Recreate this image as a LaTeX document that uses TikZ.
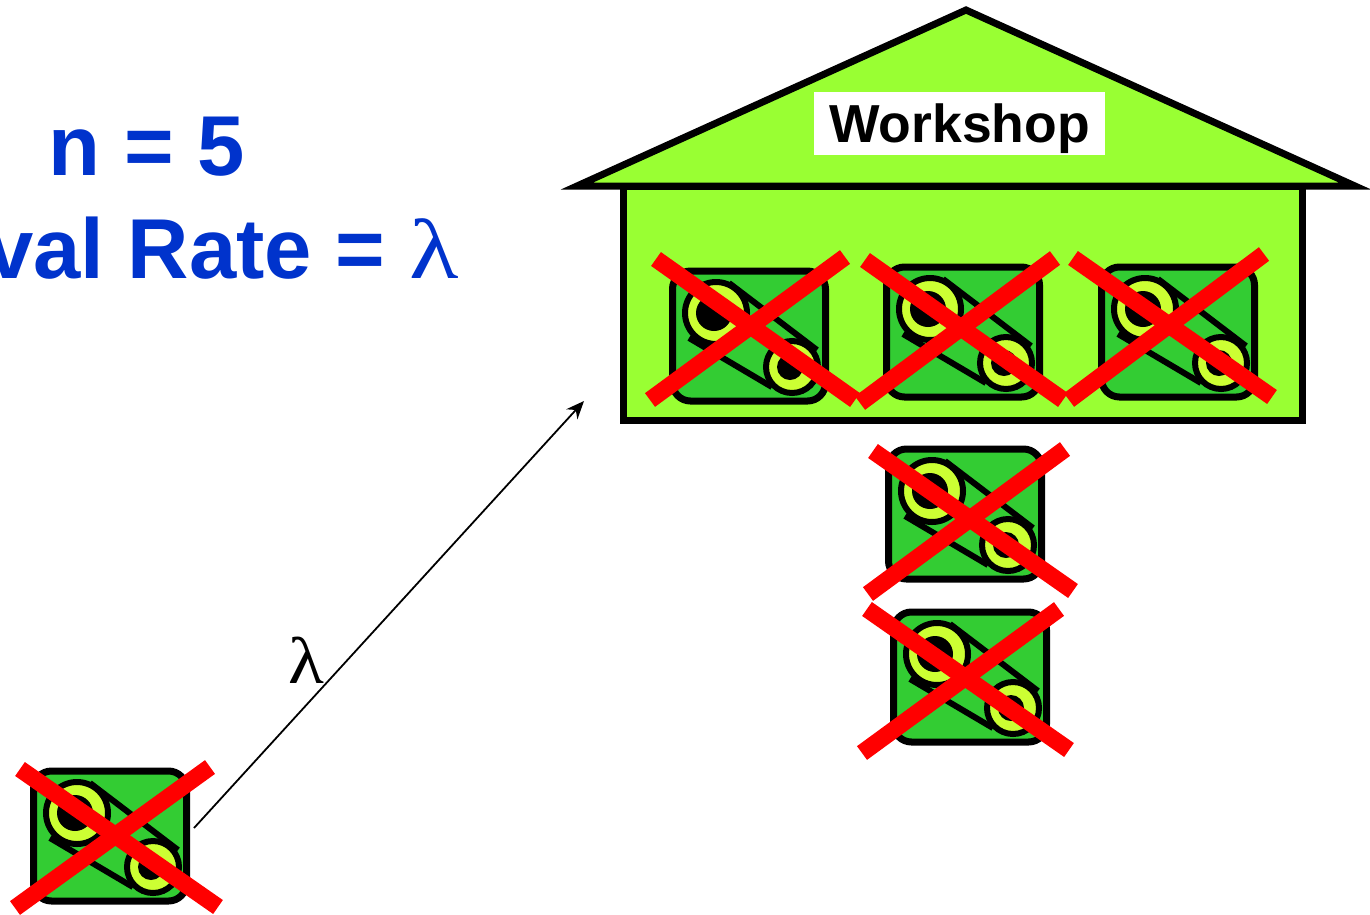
\documentclass[tikz,border=0pt]{standalone}
\usepackage{fontspec}
\setmainfont{Liberation Sans}
\newfontfamily\greekfont{Liberation Serif}
\usetikzlibrary{arrows.meta}
\definecolor{housegreen}{HTML}{99FF33}
\definecolor{machinegreen}{HTML}{33CC33}
\definecolor{wheelyellow}{HTML}{CCFF33}
\definecolor{titleblue}{HTML}{0033CC}
\tikzset{
    machinebox/.style={draw, fill=machinegreen, line width=7, rounded corners=18, minimum width=153, minimum height=130, inner sep=0},
    wheel/.style={draw, fill=wheelyellow, line width=6},
    hub/.style={fill=black},
    belt/.style={line width=6},
    cross/.style={draw=red, line width=17},
    title/.style={text=titleblue, font=\fontsize{85}{85}\selectfont\bfseries, anchor=base},
    pics/machine/.style={code={
        \node[machinebox] (-box) at (0,0) {};
        \draw[belt] (-20,-53) -- (68,14);
        \draw[belt] (-60,2) -- (23,51);
        \draw[wheel] (-33,-23) circle (31);
        \fill[hub] (-35,-23) circle (18);
        \draw[wheel] (43,31) circle (26);
        \fill[hub] (41,31) circle (13);
    }}
}
\begin{document}
\begin{tikzpicture}[x=1pt, y=-1pt]
    \useasboundingbox (0,0) rectangle (1370,914);
    % house
    \draw[fill=housegreen, line width=7, line join=miter] (577,186) -- (966,10) -- (1355,186) -- cycle;
    \node[draw, fill=housegreen, line width=7, minimum width=679, minimum height=234, inner sep=0, anchor=north west] (body) at (620,183) {};
    \node[fill=white, minimum width=291, minimum height=63, inner sep=0, font=\fontsize{53.5}{53.5}\selectfont\bfseries] (label) at (959.5,123.5) {\raisebox{-19pt}[0pt][0pt]{Workshop}};
    % machines in the workshop
    \pic (m1) at (749,336) {machine};
    \pic (m2) at (963,332) {machine};
    \pic (m3) at (1178,332) {machine};
    % machines waiting
    \pic (m4) at (965,514) {machine};
    \pic (m5) at (970,677) {machine};
    \pic (m6) at (110,836) {machine};
    % crossed out
    \foreach \ax/\ay/\bx/\by/\cx/\cy/\dx/\dy in {
        656/259/855/400/845/257/650/400,
        865/260/1063/400/1055/258/860/403,
        1073/258/1272/397/1264/254/1069/400,
        873/451/1073/591/1065/449/868/594,
        867/609/1069/750/1059/609/862/753,
        20/769/218/907/210/767/15/908} {
        \draw[cross] (\ax,\ay) -- (\bx,\by);
        \draw[cross] (\cx,\cy) -- (\dx,\dy);
    }
    % arrival
    \coordinate (entry) at (584,401);
    \draw[-{Stealth[length=18,width=15]}, line width=1.8] ([shift={(4,-8)}]m6-box.east) -- (entry);
    \node[font=\fontsize{66}{66}\selectfont\greekfont] (rate) at (306,660) {\scalebox{1.12}[1]{λ}};
    % text
    \node[title] (n) at (147,175) {n = 5};
    \node[title, anchor=base east] (arrival) at (462,278) {val Rate = {\fontsize{85}{85}\selectfont\greekfont\mdseries\scalebox{1.2}[1]{λ}}};
\end{tikzpicture}
\end{document}
